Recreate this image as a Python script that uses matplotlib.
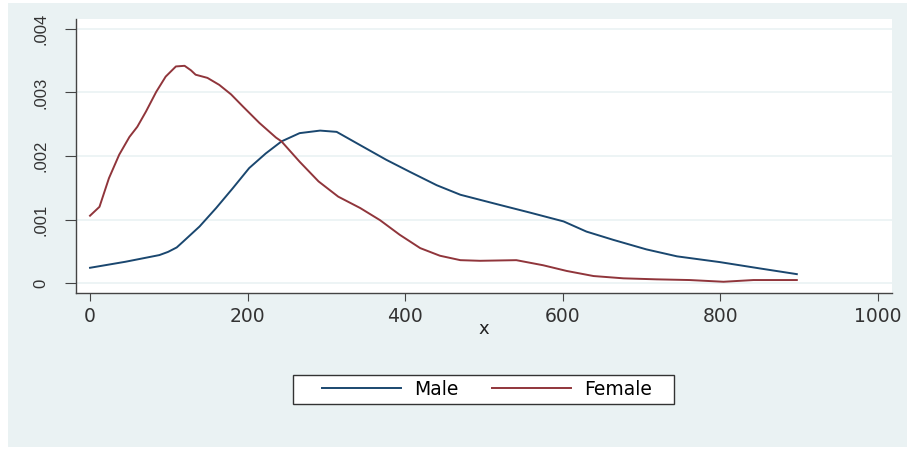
import matplotlib.pyplot as plt
from matplotlib.patches import Rectangle

# kernel density curves, read at these x values
xMale = [0, 45, 88, 99, 110, 118, 139, 160, 181, 202, 223, 243, 266, 292, 313, 343,
         376, 406, 440, 470, 495, 520, 558, 601, 630, 664, 706, 745, 799, 850, 897]
yMale = [0.00024, 0.000335, 0.00044, 0.00049, 0.00056, 0.00065, 0.00089, 0.00118,
         0.00149, 0.00181, 0.00204, 0.00223, 0.00236, 0.00240, 0.00238, 0.00217,
         0.00194, 0.00175, 0.00154, 0.00139, 0.00131, 0.00123, 0.00111, 0.00097,
         0.00081, 0.00068, 0.00053, 0.00042, 0.00033, 0.00023, 0.00014]

xFemale = [0, 12, 24, 37, 50, 60, 71, 84, 96, 109, 120, 128, 134, 149, 164, 179, 194,
           215, 236, 243, 266, 290, 315, 343, 368, 393, 419, 444, 470, 495, 541, 575,
           605, 639, 677, 719, 761, 804, 842, 897]
yFemale = [0.00106, 0.00120, 0.00165, 0.00202, 0.00230, 0.00246, 0.00270, 0.00301,
           0.00325, 0.00341, 0.00342, 0.00335, 0.00328, 0.00323, 0.00312, 0.00297,
           0.00278, 0.00252, 0.00229, 0.00223, 0.00191, 0.00160, 0.00136, 0.00118,
           0.00099, 0.00076, 0.00055, 0.00043, 0.00036, 0.00035, 0.00036, 0.00028,
           0.00019, 0.00011, 0.000074, 0.000058, 0.000047, 0.00002, 0.000047, 0.000047]

xTicks = [0, 200, 400, 600, 800, 1000]
yTicks = [0, 0.001, 0.002, 0.003, 0.004]
yTickLabels = ['0', '.001', '.002', '.003', '.004']

navy = '#1a476f'
maroon = '#90353b'
bluishgray = '#eaf2f3'
W, H = 907, 454

fig = plt.figure(figsize=(W / 100, H / 100), dpi=100, facecolor='white')
fig.patches.append(Rectangle((8 / W, 1 - 447 / H), (W - 8) / W, 444 / H,
                             transform=fig.transFigure, facecolor=bluishgray,
                             edgecolor='none', zorder=-10))

ax = fig.add_axes([76 / W, 1 - 293 / H, 816 / W, 274 / H], zorder=2)
ax.set_facecolor('white')

ax.plot(xMale, yMale, color=navy, lw=1.4, label='Male')
ax.plot(xFemale, yFemale, color=maroon, lw=1.4, label='Female')

ax.set_xlim(-17.8, 1017.8)
ax.set_ylim(-0.000157, 0.004157)

ax.set_yticks(yTicks)
ax.set_yticklabels(yTickLabels, rotation=90, va='center', family='Liberation Sans',
                   fontsize=12, color='#333333')
ax.set_xticks(xTicks)
ax.set_xticklabels([str(t) for t in xTicks], fontsize=13.5, color='#333333')
ax.tick_params(axis='y', length=8, pad=12, color='#444444')
ax.tick_params(axis='x', length=6, pad=4, color='#444444')

ax.grid(axis='y', color=bluishgray, lw=1.2)
ax.set_axisbelow(True)
for s in ['top', 'right']:
    ax.spines[s].set_visible(False)
for s in ['left', 'bottom']:
    ax.spines[s].set_color('#444444')
    ax.spines[s].set_linewidth(1.0)

ax.set_xlabel('x', fontsize=13, color='#222222', labelpad=-4)

# legend box under the plot
fig.patches.append(Rectangle((293 / W, 1 - 404 / H), 381 / W, 29 / H,
                             transform=fig.transFigure, facecolor='white',
                             edgecolor='#333333', lw=1.0, zorder=1))
fig.legend(loc='center', bbox_to_anchor=(487 / W, 1 - 389.5 / H), ncol=2,
           frameon=False, fontsize=13.5, handlelength=4.2, handletextpad=0.7,
           columnspacing=1.8)

fig.savefig('out.png', dpi=100, facecolor='white')
